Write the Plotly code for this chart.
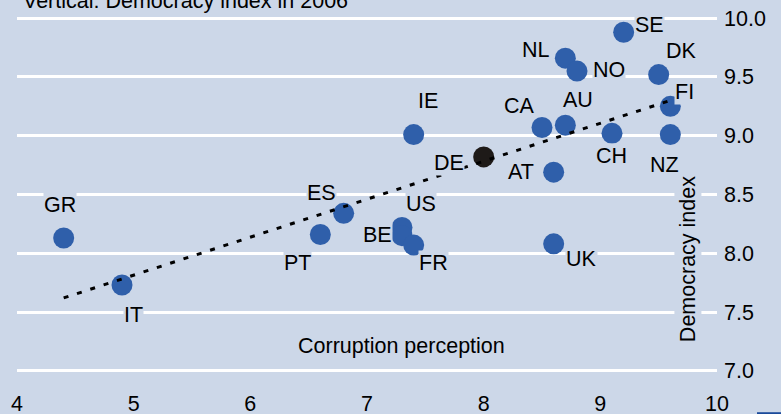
import plotly.graph_objects as go

# ---- data ----
countries = ["GR", "IT", "PT", "ES", "US", "BE", "FR", "IE", "DE", "AT",
             "UK", "CA", "AU", "NL", "NO", "CH", "SE", "DK", "FI", "NZ"]
corruption = [4.4, 4.9, 6.6, 6.8, 7.3, 7.3, 7.4, 7.4, 8.0, 8.6,
              8.6, 8.5, 8.7, 8.7, 8.8, 9.1, 9.2, 9.5, 9.6, 9.6]
democracy = [8.13, 7.73, 8.16, 8.34, 8.22, 8.15, 8.07, 9.01, 8.82, 8.69,
             8.08, 9.07, 9.09, 9.66, 9.55, 9.02, 9.88, 9.52, 9.25, 9.01]
highlight = "DE"
trend_x = [4.4, 9.6]
trend_y = [7.62, 9.30]
x_ticks = [4, 5, 6, 7, 8, 9, 10]
y_ticks = [7.0, 7.5, 8.0, 8.5, 9.0, 9.5, 10.0]
y_ticklabels = ["7.0", "7.5", "8.0", "8.5", "9.0", "9.5", "10.0"]

# label offsets in pixels (style)
label_offsets = {
    "SE": (26, 7), "NL": (-29, 8), "NO": (32, 1), "DK": (23, 24),
    "FI": (14, 14), "NZ": (-6, -30), "CH": (-1, -23), "AU": (13, 25),
    "CA": (-23, 22), "AT": (-33, 0), "IE": (14, 34), "DE": (-35, -6),
    "GR": (-4, 33), "IT": (11, -30), "ES": (-22, 20), "US": (19, 23),
    "BE": (-25, 1), "PT": (-23, -29), "FR": (20, -18), "UK": (28, -15),
}

BG = "#CCD7E8"
BLUE = "#2F5FAA"
DARK = "#1E1A18"
FONT = "Liberation Sans, Arial, Helvetica, sans-serif"
FS = 21.5

colors = [DARK if c == highlight else BLUE for c in countries]

fig = go.Figure()
fig.add_trace(go.Scatter(
    x=corruption, y=democracy, mode="markers",
    marker=dict(size=21, color=colors, line=dict(width=0)),
    cliponaxis=False, hoverinfo="text", text=countries,
))
fig.add_trace(go.Scatter(
    x=trend_x, y=trend_y, mode="lines",
    line=dict(color="black", width=3, dash="5px,9px"),
    cliponaxis=False, hoverinfo="skip",
))

annotations = []
for c, x, y in zip(countries, corruption, democracy):
    dx, dy = label_offsets[c]
    annotations.append(dict(
        x=x, y=y, xref="x", yref="y", text=c, showarrow=False,
        xanchor="center", yanchor="middle",
        xshift=dx, yshift=dy, bgcolor=BG, borderpad=0,
        font=dict(family=FONT, size=FS, color="black"),
    ))

annotations.append(dict(
    x=0.9586, y=0.318, xref="paper", yref="paper", text="Democracy index",
    xanchor="center", yanchor="middle",
    textangle=-90, showarrow=False, bgcolor=BG, borderpad=1,
    font=dict(family=FONT, size=FS, color="black"),
))
annotations.append(dict(
    x=0.549, y=0.072, xref="paper", yref="paper", text="Corruption perception",
    xanchor="center", yanchor="middle",
    showarrow=False, font=dict(family=FONT, size=FS, color="black"),
))
annotations.append(dict(
    x=0.005, y=1.045, xref="paper", yref="paper", xanchor="left", yanchor="middle",
    text="Vertical: Democracy index in 2006", showarrow=False,
    font=dict(family=FONT, size=FS, color="black"),
))

fig.update_layout(
    width=781, height=414,
    margin=dict(l=16.5, r=64, t=16.8, b=41.8, pad=0, autoexpand=False),
    paper_bgcolor=BG, plot_bgcolor=BG,
    showlegend=False,
    annotations=annotations,
    shapes=[dict(type="rect", xref="paper", yref="paper",
                 x0=1.0571, x1=1.1, y0=-0.13, y1=-0.1133,
                 fillcolor="#1A4A9A", line=dict(width=0))],
    xaxis=dict(range=[4, 10], tickvals=x_ticks, showgrid=False, zeroline=False,
               showline=False, ticks="", ticklabelstandoff=16, automargin=False,
               tickfont=dict(family=FONT, size=FS, color="black")),
    yaxis=dict(range=[6.99, 10.01], side="right", tickvals=y_ticks,
               ticktext=y_ticklabels, showgrid=True, gridcolor="white",
               gridwidth=3, zeroline=False, showline=False, ticks="",
               ticklabelstandoff=6, automargin=False,
               tickfont=dict(family=FONT, size=FS, color="black")),
)

fig.write_html("out.html", config={"displayModeBar": False},
               post_script="document.body.style.margin='0';")
